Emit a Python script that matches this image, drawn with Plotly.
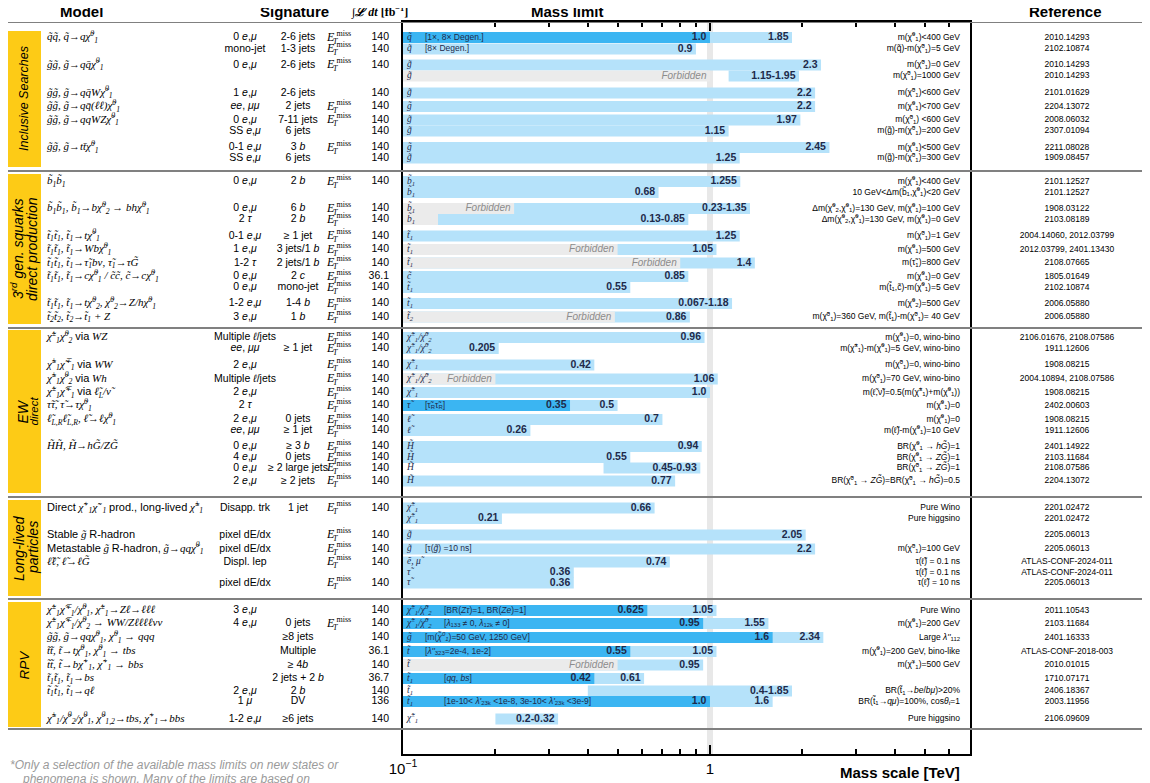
import plotly.graph_objects as go

# ---------------------------------------------------------------- notation
TIL = "\u0303"
MAC = "\u0304"
chi = "χ" + TIL
N1 = chi + "<sup>0</sup><sub>1</sub>"
N2 = chi + "<sup>0</sup><sub>2</sub>"
C1 = chi + "<sup>±</sup><sub>1</sub>"
C1m = chi + "<sup>∓</sup><sub>1</sub>"
C1p = chi + "<sup>+</sup><sub>1</sub>"
C1n = chi + "<sup>−</sup><sub>1</sub>"
SQ = "q" + TIL
GL = "g" + TIL
B1 = "b" + TIL + "<sub>1</sub>"
T1 = "t" + TIL + "<sub>1</sub>"
T2 = "t" + TIL + "<sub>2</sub>"
ST = "t" + TIL
SC = "c" + TIL
SL = "ℓ" + TIL
TAU = "τ" + TIL
GR = "G" + TIL
HG = "H" + TIL
QB = "q" + MAC
TB = "t" + MAC
EMU = "<i>e</i>,<i>μ</i>"


def sans(s):
    return f'<span style="font-family:Liberation Sans">{s}</span>'


VIA = sans("via")

# ---------------------------------------------------------------- data
categories = [["Inclusive Searches"], ["3<sup>rd</sup> gen. squarks", "direct production"],
              ["EW", "direct"], ["Long-lived", "particles"], ["RPV"]]

models = [
    f"<i>{SQ}{SQ}, {SQ}→q{N1}</i>", "",
    f"<i>{GL}{GL}, {GL}→q{QB}{N1}</i>", "",
    f"<i>{GL}{GL}, {GL}→q{QB}W{N1}</i>",
    f"<i>{GL}{GL}, {GL}→q{QB}(ℓℓ){N1}</i>",
    f"<i>{GL}{GL}, {GL}→qqWZ{N1}</i>", "",
    f"<i>{GL}{GL}, {GL}→t{TB}{N1}</i>", "",
    f"<i>{B1}{B1}</i>", "",
    f"<i>{B1}{B1}, {B1}→b{N2} → bh{N1}</i>", "",
    f"<i>{T1}{T1}, {T1}→t{N1}</i>",
    f"<i>{T1}{T1}, {T1}→Wb{N1}</i>",
    f"<i>{T1}{T1}, {T1}→{TAU}<sub>1</sub>bν, {TAU}<sub>1</sub>→τ{GR}</i>",
    f"<i>{T1}{T1}, {T1}→c{N1} / {SC}{SC}, {SC}→c{N1}</i>", "",
    f"<i>{T1}{T1}, {T1}→t{N2}, {N2}→Z/h{N1}</i>",
    f"<i>{T2}{T2}, {T2}→{T1} + Z</i>",
    f"<i>{C1}{N2}</i> {VIA} <i>WZ</i>", "",
    f"<i>{C1}{C1m}</i> {VIA} <i>WW</i>",
    f"<i>{C1}{N2}</i> {VIA} <i>Wh</i>",
    f"<i>{C1}{C1m}</i> {VIA} <i>{SL}<sub>L</sub>/ν{TIL}</i>",
    f"<i>{TAU}{TAU}, {TAU}→τ{N1}</i>",
    f"<i>{SL}<sub>L,R</sub>{SL}<sub>L,R</sub>, {SL}→ℓ{N1}</i>", "",
    f"<i>{HG}{HG}, {HG}→h{GR}/Z{GR}</i>", "", "", "",
    f"{sans('Direct')} <i>{C1p}{C1n}</i> {sans('prod., long-lived')} <i>{C1}</i>", "",
    f"{sans('Stable')} <i>{GL}</i> {sans('R-hadron')}",
    f"{sans('Metastable')} <i>{GL}</i> {sans('R-hadron,')} <i>{GL}→qq{N1}</i>",
    f"<i>{SL}{SL}, {SL}→ℓ{GR}</i>", "", "",
    f"<i>{C1}{C1m}/{N1}, {C1}→Zℓ→ℓℓℓ</i>",
    f"<i>{C1}{C1m}/{N2} → WW/Zℓℓℓℓνν</i>",
    f"<i>{GL}{GL}, {GL}→qq{N1}, {N1} → qqq</i>",
    f"<i>{ST}{ST}, {ST}→t{N1}, {N1} → tbs</i>",
    f"<i>{ST}{ST}, {ST}→b{C1p}, {C1p} → bbs</i>",
    f"<i>{T1}{T1}, {T1}→bs</i>",
    f"<i>{T1}{T1}, {T1}→qℓ</i>", "",
    f"<i>{C1}/{N2}/{N1}, {chi}<sup>0</sup><sub>1,2</sub>→tbs, {C1p}→bbs</i>",
]

sig_lep = [
    "0 " + EMU, "mono-jet", "0 " + EMU, "", "1 " + EMU, "<i>ee</i>, <i>μμ</i>", "0 " + EMU,
    "SS " + EMU, "0-1 " + EMU, "SS " + EMU,
    "0 " + EMU, "", "0 " + EMU, "2 <i>τ</i>", "0-1 " + EMU, "1 " + EMU, "1-2 <i>τ</i>",
    "0 " + EMU, "0 " + EMU, "1-2 " + EMU, "3 " + EMU,
    "Multiple <i>ℓ</i>/jets", "<i>ee</i>, <i>μμ</i>", "2 " + EMU, "Multiple <i>ℓ</i>/jets",
    "2 " + EMU, "2 <i>τ</i>", "2 " + EMU, "<i>ee</i>, <i>μμ</i>", "0 " + EMU, "4 " + EMU,
    "0 " + EMU, "2 " + EMU,
    "Disapp. trk", "", "pixel dE/dx", "pixel dE/dx", "Displ. lep", "", "pixel dE/dx",
    "3 " + EMU, "4 " + EMU, "", "", "", "", "2 " + EMU, "1 <i>μ</i>", "1-2 " + EMU,
]

sig_jet = [
    "2-6 jets", "1-3 jets", "2-6 jets", "", "2-6 jets", "2 jets", "7-11 jets", "6 jets",
    "3 <i>b</i>", "6 jets",
    "2 <i>b</i>", "", "6 <i>b</i>", "2 <i>b</i>", "≥ 1 jet", "3 jets/1 <i>b</i>",
    "2 jets/1 <i>b</i>", "2 <i>c</i>", "mono-jet", "1-4 <i>b</i>", "1 <i>b</i>",
    "", "≥ 1 jet", "", "", "", "", "0 jets", "≥ 1 jet", "≥ 3 <i>b</i>", "0 jets",
    "≥ 2 large jets", "≥ 2 jets",
    "1 jet", "", "", "", "", "", "",
    "", "0 jets", "≥8 jets", "Multiple", "≥ 4<i>b</i>", "2 jets + 2 <i>b</i>", "2 <i>b</i>",
    "DV", "≥6 jets",
]

met = [
    1, 1, 1, 0, 0, 1, 1, 0, 1, 0,
    1, 0, 1, 1, 1, 1, 1, 1, 1, 1, 1,
    1, 1, 1, 1, 1, 1, 1, 1, 1, 1, 1, 1,
    1, 0, 1, 1, 1, 0, 1,
    0, 1, 0, 0, 0, 0, 0, 0, 0,
]

lumi = [
    "140", "140", "140", "", "140", "140", "140", "140", "140", "140",
    "140", "", "140", "140", "140", "140", "140", "36.1", "140", "140", "140",
    "140", "140", "140", "140", "140", "140", "140", "140", "140", "140", "140", "140",
    "140", "", "140", "140", "140", "", "140",
    "140", "140", "140", "36.1", "140", "36.7", "140", "136", "140",
]

particles = [
    SQ, SQ, GL, GL, GL, GL, GL, GL, GL, GL,
    B1, B1, B1, B1, T1, T1, T1, SC, T1, T1, T2,
    f"{C1}/{N2}", f"{C1}/{N2}", C1, f"{C1}/{N2}", C1, TAU, SL, SL, HG, HG, HG, HG,
    C1, C1, GL, GL, f"e{TIL}, μ{TIL}", TAU, TAU,
    f"{C1}/{N2}", f"{C1}/{N2}", GL, ST, ST, T1, T1, T1, C1,
]

notes = {
    0: "[1×, 8× Degen.]",
    1: "[8× Degen.]",
    26: f"[{TAU}<sub>R</sub>{TAU}<sub>R</sub>]",
    36: f"[τ(<i>{GL}</i>) =10 ns]",
    40: "[BR(<i>Zτ</i>)=1, BR(<i>Ze</i>)=1]",
    41: "[<i>λ</i><sub>133</sub> ≠ 0, <i>λ</i><sub>12k</sub> ≠ 0]",
    42: f"[m(<i>{N1}</i>)=50 GeV, 1250 GeV]",
    43: "[<i>λ''</i><sub>323</sub>=2e-4, 1e-2]",
    45: "[<i>qq</i>, <i>bs</i>]",
    47: "[1e-10< <i>λ'</i><sub>23k</sub> <1e-8, 3e-10< <i>λ'</i><sub>23k</sub> <3e-9]",
}

# mass limits in TeV
light_hi = [
    1.85, 0.9, 2.3, 1.95, 2.2, 2.2, 1.97, 1.15, 2.45, 1.25,
    1.255, 0.68, 1.35, 0.85, 1.25, 1.05, 1.4, 0.85, 0.55, 1.18, 0.86,
    0.96, 0.205, 0.42, 1.06, 1.0, 0.5, 0.7, 0.26, 0.94, 0.55, 0.93, 0.77,
    0.66, 0.21, 2.05, 2.2, 0.74, 0.36, 0.36,
    1.05, 1.55, 2.34, 1.05, 0.95, 0.61, 1.85, 1.6, 0.32,
]
light_lo = {3: 1.15, 12: 0.23, 13: 0.13, 19: 0.067, 31: 0.45, 46: 0.4, 48: 0.2}
dark_hi = {0: 1.0, 26: 0.35, 40: 0.625, 41: 0.95, 42: 1.6, 43: 0.55, 45: 0.42, 47: 1.0}
forbid_hi = {3: 1.0, 12: 0.23, 13: 0.13, 15: 0.5, 16: 0.8, 20: 0.49, 24: 0.2, 44: 0.5}

conditions = [
    f"m({N1})<400 GeV", f"m({SQ})-m({N1})=5 GeV", f"m({N1})=0 GeV", f"m({N1})=1000 GeV",
    f"m({N1})<600 GeV", f"m({N1})<700 GeV", f"m({N1}) <600 GeV", f"m({GL})-m({N1})=200 GeV",
    f"m({N1})<500 GeV", f"m({GL})-m({N1})=300 GeV",
    f"m({N1})<400 GeV", f"10 GeV<Δm({B1},{N1})<20 GeV",
    f"Δm({N2},{N1})=130 GeV, m({N1})=100 GeV", f"Δm({N2},{N1})=130 GeV, m({N1})=0 GeV",
    f"m({N1})=1 GeV", f"m({N1})=500 GeV", f"m({TAU}<sub>1</sub>)=800 GeV", f"m({N1})=0 GeV",
    f"m({T1},{SC})-m({N1})=5 GeV", f"m({N2})=500 GeV",
    f"m({N1})=360 GeV, m({T1})-m({N1})= 40 GeV",
    f"m({N1})=0, wino-bino", f"m({C1})-m({N1})=5 GeV, wino-bino", f"m({N1})=0, wino-bino",
    f"m({N1})=70 GeV, wino-bino", f"m({SL},ν{TIL})=0.5(m({C1})+m({N1}))", f"m({N1})=0",
    f"m({N1})=0", f"m({SL})-m({N1})=10 GeV",
    f"BR({N1} → <i>h{GR}</i>)=1", f"BR({N1} → <i>Z{GR}</i>)=1", f"BR({N1} → <i>Z{GR}</i>)=1",
    f"BR({N1} → <i>Z{GR}</i>)=BR({N1} → <i>h{GR}</i>)=0.5",
    "Pure Wino", "Pure higgsino", "", f"m({N1})=100 GeV",
    f"τ({SL}) = 0.1 ns", f"τ({SL}) = 0.1 ns", f"τ({SL}) = 10 ns",
    "Pure Wino", f"m({N1})=200 GeV", "Large <i>λ''</i><sub>112</sub>",
    f"m({N1})=200 GeV, bino-like", f"m({C1p})=500 GeV", "",
    f"BR({T1}→<i>be</i>/<i>bμ</i>)>20%", f"BR({T1}→<i>qμ</i>)=100%, cos<i>θ<sub>t</sub></i>=1",
    "Pure higgsino",
]

references = [
    "2010.14293", "2102.10874", "2010.14293", "2010.14293", "2101.01629", "2204.13072",
    "2008.06032", "2307.01094", "2211.08028", "1909.08457",
    "2101.12527", "2101.12527", "1908.03122", "2103.08189", "2004.14060, 2012.03799",
    "2012.03799, 2401.13430", "2108.07665", "1805.01649", "2102.10874", "2006.05880",
    "2006.05880",
    "2106.01676, 2108.07586", "1911.12606", "1908.08215", "2004.10894, 2108.07586",
    "1908.08215", "2402.00603", "1908.08215", "1911.12606", "2401.14922", "2103.11684",
    "2108.07586", "2204.13072",
    "2201.02472", "2201.02472", "2205.06013", "2205.06013", "ATLAS-CONF-2024-011",
    "ATLAS-CONF-2024-011", "2205.06013",
    "2011.10543", "2103.11684", "2401.16333", "ATLAS-CONF-2018-003", "2010.01015",
    "1710.07171", "2406.18367", "2003.11956", "2106.09609",
]

# ---------------------------------------------------------------- layout (pixel grid)
W, H = 1150, 783
OFF = 8  # page body margin
ROW_Y = [
    37.5, 49, 65, 76, 93, 106.5, 120, 131, 147.5, 158,
    181.5, 192.5, 208.5, 219.5, 236, 249.5, 263, 276.5, 287.5, 303.5, 317,
    337.5, 348.5, 365, 379, 392.5, 405.5, 419.5, 430.5, 446.5, 457.5, 468, 481,
    508, 518.5, 535, 549, 562, 572.5, 583,
    610.5, 623.5, 637.5, 651.5, 665, 678.5, 691, 701.5, 719,
]
CAT_SPAN = [(31, 167), (174, 324), (330, 493), (500, 596), (602, 727)]
CAT_LINE_X = [[24], [17, 32], [22, 33], [19, 33], [24]]
CAT_LINE_SIZE = [[12.5], [14, 14], [14, 11.5], [14, 14], [13.5]]
SEPARATORS = [22, 171, 328, 497, 599, 729]
PLOT_L, PLOT_R, PLOT_T, PLOT_B = 403, 970, 22, 754
AXIS_MIN = 0.1

LIGHT = "#B5E2FA"
DARK = "#3BB5F2"
FORBID = "#EBEBEB"
NAVY = "#1E2A4A"
YELLOW = "#FDCB16"
SERIF = "Liberation Serif"
SANS = "Liberation Sans"


def fx(p):
    return (p - OFF) / W


def fy(p):
    return 1 - (p - OFF) / H


fig = go.Figure()

# 1 TeV band
fig.add_trace(go.Bar(
    y=[(PLOT_T + PLOT_B) / 2], x=[0.045], base=[0.978], width=[PLOT_B - PLOT_T],
    orientation="h", marker=dict(color="#E8E8E8", line=dict(width=0)),
    hoverinfo="skip", showlegend=False))

# light bars
lb = [light_lo.get(i, AXIS_MIN) for i in range(len(light_hi))]
fig.add_trace(go.Bar(
    y=ROW_Y, x=[h - b for h, b in zip(light_hi, lb)], base=lb, width=11,
    orientation="h", marker=dict(color=LIGHT, line=dict(width=0)),
    hoverinfo="skip", showlegend=False))

# forbidden regions
fi = sorted(forbid_hi)
fig.add_trace(go.Bar(
    y=[ROW_Y[i] for i in fi], x=[forbid_hi[i] - AXIS_MIN for i in fi],
    base=[AXIS_MIN] * len(fi), width=11, orientation="h",
    marker=dict(color=FORBID, line=dict(width=0)), hoverinfo="skip", showlegend=False))

# dark bars
di = sorted(dark_hi)
fig.add_trace(go.Bar(
    y=[ROW_Y[i] for i in di], x=[dark_hi[i] - AXIS_MIN for i in di],
    base=[AXIS_MIN] * len(di), width=11, orientation="h",
    marker=dict(color=DARK, line=dict(width=0)), hoverinfo="skip", showlegend=False))


def add_text(xs, ys, texts, pos, size, family, color="black", xaxis="x2", pad=False):
    keep = [(x, y, t) for x, y, t in zip(xs, ys, texts) if t]
    if not keep:
        return
    fig.add_trace(go.Scatter(
        x=[k[0] for k in keep], y=[k[1] for k in keep], text=[k[2] for k in keep],
        mode="markers+text" if pad else "text", textposition=pos,
        marker=dict(size=4, opacity=0), cliponaxis=False,
        textfont=dict(size=size, family=family, color=color),
        xaxis=xaxis, yaxis="y", hoverinfo="skip", showlegend=False))


n = len(ROW_Y)
# value labels
light_txt = [f"<b>{light_lo[i]}-{light_hi[i]}</b>" if i in light_lo else f"<b>{light_hi[i]}</b>"
             for i in range(n)]
add_text(light_hi, ROW_Y, light_txt, "middle left", 10.5, SANS, NAVY, "x", pad=True)
add_text([dark_hi[i] for i in di], [ROW_Y[i] for i in di],
         [f"<b>{dark_hi[i]}</b>" for i in di], "middle left", 10.5, SANS, NAVY, "x", pad=True)
ft = [i for i in fi if forbid_hi[i] > 0.15]
add_text([forbid_hi[i] for i in ft], [ROW_Y[i] for i in ft], ["<i>Forbidden</i>"] * len(ft),
         "middle left", 10, SANS, "#8C8C8C", "x", pad=True)

# in-bar particle labels and notes
add_text([407] * n, ROW_Y, [f"<i>{p}</i>" for p in particles], "middle right", 9.5, SERIF, NAVY)
ni = sorted(notes)
add_text([444 if "/" in particles[i] else 425 for i in ni], [ROW_Y[i] for i in ni],
         [notes[i] for i in ni], "middle right", 8.5, SANS, NAVY)

# table columns
add_text([47] * n, ROW_Y, models, "middle right", 11, SERIF)
add_text([245] * n, ROW_Y, sig_lep, "middle center", 10.5, SANS)
add_text([298] * n, ROW_Y, sig_jet, "middle center", 10.5, SANS)
add_text([327] * n, ROW_Y, ["<i>E</i>" if m else "" for m in met], "middle right", 12, SERIF)
add_text([336.5] * n, [y - 4 for y in ROW_Y], ["miss" if m else "" for m in met],
         "middle right", 8, SERIF)
add_text([333] * n, [y + 4 for y in ROW_Y], ["<i>T</i>" if m else "" for m in met],
         "middle right", 8, SERIF)
add_text([389] * n, ROW_Y, lumi, "middle left", 10.5, SANS)
add_text([960] * n, ROW_Y, conditions, "middle left", 8.5, SANS)
add_text([1067] * n, ROW_Y, references, "middle center", 8.5, SANS)

shapes = []
for y0, y1 in CAT_SPAN:
    shapes.append(dict(type="rect", xref="paper", yref="y", x0=fx(7), x1=fx(41), y0=y0, y1=y1,
                       fillcolor=YELLOW, line=dict(width=0), layer="below"))
for y in SEPARATORS:
    shapes.append(dict(type="line", xref="paper", yref="y", x0=fx(7), x1=1, y0=y, y1=y,
                       line=dict(color="#808080", width=1.8)))

annotations = []
for lines, xs, sizes, (y0, y1) in zip(categories, CAT_LINE_X, CAT_LINE_SIZE, CAT_SPAN):
    for line, x, s in zip(lines, xs, sizes):
        annotations.append(dict(text=f"<i>{line}</i>", xref="paper", yref="y", x=fx(x),
                                y=(y0 + y1) / 2, textangle=-90, showarrow=False,
                                xanchor="center", yanchor="middle",
                                font=dict(size=s, family=SANS, color="black")))
for txt, x in [("Model", 81), ("Signature", 294), ("Mass limit", 567), ("Reference", 1065)]:
    annotations.append(dict(text=f"<b>{txt}</b>", xref="paper", yref="paper", x=fx(x),
                            y=fy(11), showarrow=False, xanchor="center", yanchor="middle",
                            font=dict(size=15, family=SANS, color="black")))
annotations.append(dict(text="<b>∫<i>ℒ dt</i> [fb<sup>−1</sup>]</b>", xref="paper",
                        yref="paper", x=fx(379), y=fy(11), showarrow=False,
                        xanchor="center", yanchor="middle",
                        font=dict(size=12, family=SERIF, color="black")))
annotations.append(dict(text="<b>Mass scale [TeV]</b>", xref="paper", yref="paper",
                        x=fx(900), y=fy(772), showarrow=False, xanchor="center",
                        yanchor="middle", font=dict(size=15, family=SANS, color="black")))
annotations.append(dict(text="<i>*Only a selection of the available mass limits on new states or</i>",
                        xref="paper", yref="paper", x=fx(8), y=fy(765), xanchor="left",
                        yanchor="middle", showarrow=False,
                        font=dict(size=12, family=SANS, color="#9A9A9A")))
annotations.append(dict(text="<i>phenomena is shown. Many of the limits are based on</i>",
                        xref="paper", yref="paper", x=fx(20), y=fy(779), xanchor="left",
                        yanchor="middle", showarrow=False,
                        font=dict(size=12, family=SANS, color="#9A9A9A")))

fig.update_layout(
    width=W, height=H,
    margin=dict(l=0, r=0, t=0, b=0, autoexpand=False),
    paper_bgcolor="white", plot_bgcolor="rgba(0,0,0,0)",
    barmode="overlay", showlegend=False,
    shapes=shapes, annotations=annotations,
    xaxis=dict(
        type="log", range=[-1, 0.847], domain=[fx(PLOT_L), fx(PLOT_R)],
        showline=True, linecolor="black", linewidth=1.5, mirror="ticks",
        ticks="inside", ticklen=9, tickwidth=1.5, tickcolor="black",
        tickvals=[0.1, 1], ticktext=["10<sup>−1</sup>", "1"],
        tickfont=dict(size=15, family=SANS, color="black"),
        minor=dict(tickvals=[0.2, 0.3, 0.4, 0.5, 0.6, 0.7, 0.8, 0.9, 2, 3, 4, 5, 6],
                   ticks="inside", ticklen=5, tickwidth=1.5, tickcolor="black",
                   showgrid=False),
        showgrid=False, zeroline=False, automargin=False),
    xaxis2=dict(domain=[0, 1], range=[OFF, W + OFF], visible=False, anchor="y",
                automargin=False),
    yaxis=dict(
        range=[PLOT_B, PLOT_T], domain=[fy(PLOT_B), fy(PLOT_T)],
        showline=True, linecolor="black", linewidth=1.5, mirror=True,
        showticklabels=False, ticks="", showgrid=False, zeroline=False, automargin=False),
)

fig.write_html("out.html")
